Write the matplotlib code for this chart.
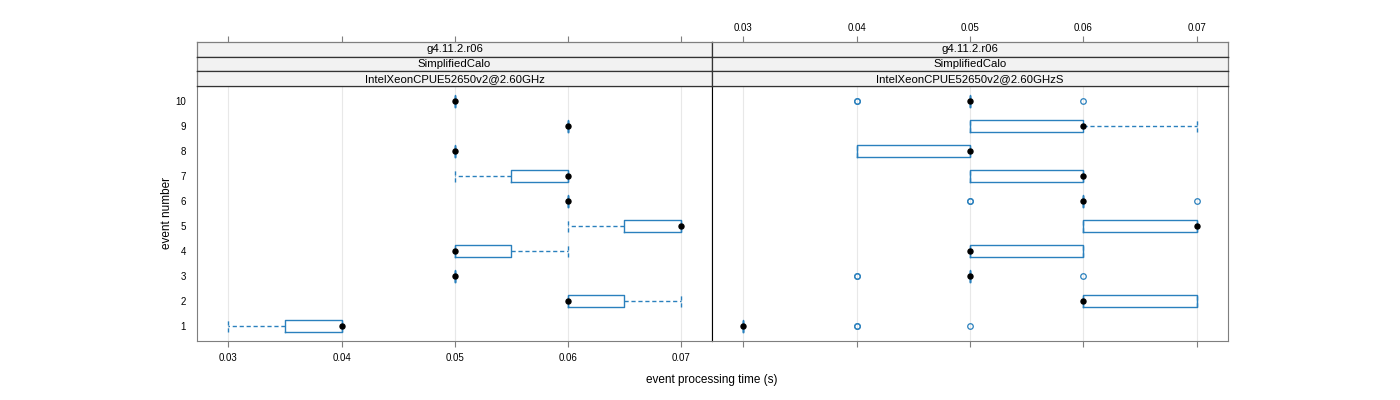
import matplotlib
matplotlib.use("Agg")
import matplotlib.pyplot as plt

plt.rcParams['font.family'] = ['Liberation Sans', 'DejaVu Sans']

events = list(range(1, 11))
strip_texts = ["g4.11.2.r06", "SimplifiedCalo"]
cpus = ["IntelXeonCPUE52650v2@2.60GHz", "IntelXeonCPUE52650v2@2.60GHzS"]
xticks = [0.03, 0.04, 0.05, 0.06, 0.07]

# left panel: five-number summaries per event
lo_a = [0.03, 0.06, 0.05, 0.05, 0.06, 0.06, 0.05, 0.05, 0.06, 0.05]
q1_a = [0.035, 0.06, 0.05, 0.05, 0.065, 0.06, 0.055, 0.05, 0.06, 0.05]
med_a = [0.04, 0.06, 0.05, 0.05, 0.07, 0.06, 0.06, 0.05, 0.06, 0.05]
q3_a = [0.04, 0.065, 0.05, 0.055, 0.07, 0.06, 0.06, 0.05, 0.06, 0.05]
hi_a = [0.04, 0.07, 0.05, 0.06, 0.07, 0.06, 0.06, 0.05, 0.06, 0.05]
out_a = [[], [], [], [], [], [], [], [], [], []]

# right panel
lo_b = [0.03, 0.06, 0.05, 0.05, 0.06, 0.06, 0.05, 0.04, 0.05, 0.05]
q1_b = [0.03, 0.06, 0.05, 0.05, 0.06, 0.06, 0.05, 0.04, 0.05, 0.05]
med_b = [0.03, 0.06, 0.05, 0.05, 0.07, 0.06, 0.06, 0.05, 0.06, 0.05]
q3_b = [0.03, 0.07, 0.05, 0.06, 0.07, 0.06, 0.06, 0.05, 0.06, 0.05]
hi_b = [0.03, 0.07, 0.05, 0.06, 0.07, 0.06, 0.06, 0.05, 0.07, 0.05]
out_b = [[0.04, 0.04, 0.05], [], [0.04, 0.04, 0.06], [], [],
         [0.05, 0.05, 0.07], [], [], [], [0.04, 0.04, 0.06]]

BLUE = "#2a80bd"
FRAME = "#7f7f7f"
W, H = 1400, 400

fig = plt.figure(figsize=(14, 4), dpi=100)

panel_l = [197, 712]
panel_w = [515, 516]
top, bottom = 86, 341
strip_h = (86 - 42) / 3
xlim = (0.02722, 0.07276)


def draw_panel(ax, lo, q1, med, q3, hi, out):
  stats = []
  for i in range(len(events)):
    stats.append({"whislo": lo[i], "q1": q1[i], "med": med[i],
                  "q3": q3[i], "whishi": hi[i], "fliers": out[i]})
  ax.bxp(stats, positions=events, widths=0.5, capwidths=0.5,
         orientation='horizontal',
         boxprops=dict(color=BLUE, linewidth=1),
         whiskerprops=dict(color=BLUE, linewidth=1, linestyle=(0, (3, 2))),
         capprops=dict(color=BLUE, linewidth=1, linestyle=(0, (3, 2))),
         medianprops=dict(linestyle='none'),
         flierprops=dict(marker='o', markerfacecolor='none',
                         markeredgecolor=BLUE, markersize=4,
                         markeredgewidth=0.9),
         manage_ticks=False)
  ax.plot(med, events, 'o', color='black', markersize=3.6, zorder=5)
  for t in xticks:
    ax.axvline(t, color='#e8e8e8', linewidth=0.8, zorder=0)
  ax.set_xlim(*xlim)
  ax.set_ylim(0.4, 10.6)
  ax.set_xticks(xticks)
  ax.set_yticks(events)
  ax.tick_params(axis='x', direction='out', length=4.5, width=0.8,
                 color=FRAME, labelsize=7, pad=4)
  ax.tick_params(axis='y', length=0, labelsize=7, pad=8)
  for s in ax.spines.values():
    s.set_color(FRAME)
  ax.spines['top'].set_color('black')


axes = []
for k in range(2):
  rect = [panel_l[k] / W, 1 - bottom / H, panel_w[k] / W, (bottom - top) / H]
  ax = fig.add_axes(rect)
  axes.append(ax)

draw_panel(axes[0], lo_a, q1_a, med_a, q3_a, hi_a, out_a)
draw_panel(axes[1], lo_b, q1_b, med_b, q3_b, hi_b, out_b)

axes[0].spines['right'].set_color('black')
axes[1].spines['left'].set_color('black')
axes[1].set_yticklabels([])
axes[1].tick_params(axis='x', labelbottom=False)

# strips
for k in range(2):
  labels = [strip_texts[0], strip_texts[1], cpus[k]]
  for i, lab in enumerate(labels):
    y_top = 42 + i * strip_h
    rect = [panel_l[k] / W, 1 - (y_top + strip_h) / H,
            panel_w[k] / W, strip_h / H]
    sax = fig.add_axes(rect, facecolor='#f2f2f2')
    sax.set_xlim(*xlim)
    sax.set_yticks([])
    for s in sax.spines.values():
      s.set_color('#333333')
      s.set_linewidth(0.9)
    if i == 0:
      sax.set_xticks(xticks)
      sax.tick_params(axis='x', top=True, bottom=False, labelbottom=False,
                      labeltop=(k == 1), direction='out', length=4.5,
                      width=0.8, color=FRAME, labelsize=7, pad=2)
      sax.spines['top'].set_color(FRAME)
    else:
      sax.set_xticks([])
    if k == 0:
      sax.spines['left'].set_color(FRAME)
    else:
      sax.spines['right'].set_color(FRAME)
    sax.text(0.5, 0.5, lab, ha='center', va='center', fontsize=8.2,
             transform=sax.transAxes)

fig.text(712 / W, 1 - 380 / H, "event processing time (s)", ha='center',
         va='center', fontsize=8.5)
fig.text(167 / W, 1 - 213 / H, "event number", ha='center', va='center',
         rotation=90, fontsize=8.5)

fig.savefig("out.png", dpi=100)
